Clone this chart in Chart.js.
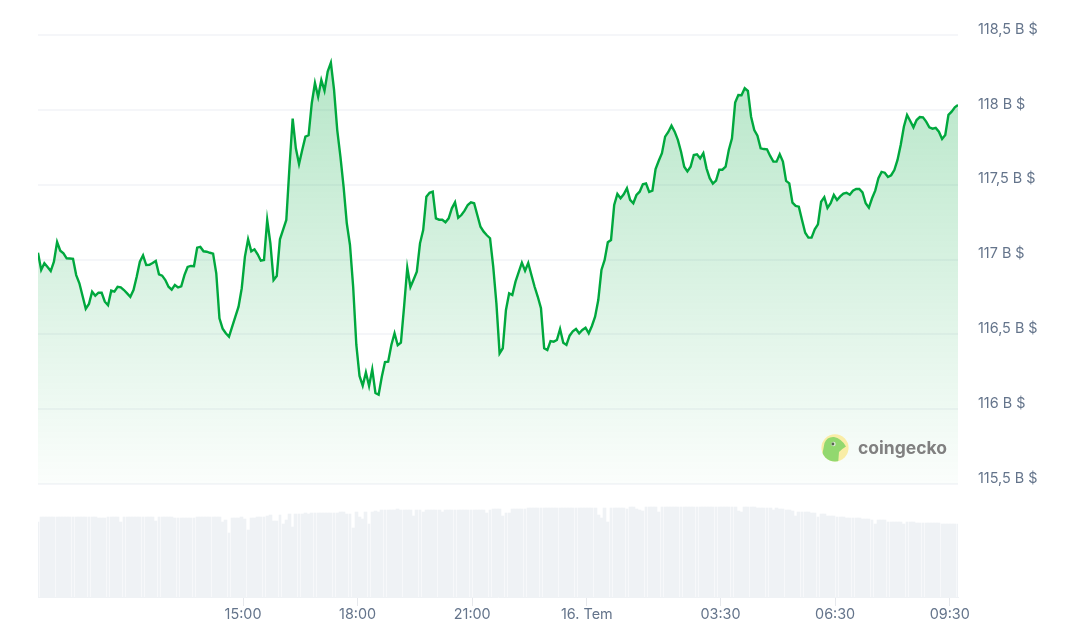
<!DOCTYPE html>
<html><head><meta charset="utf-8">
<style>html,body{margin:0;padding:0;background:#fff}canvas{display:block}</style>
<script src="https://cdn.jsdelivr.net/npm/chart.js@4"></script>
</head><body><canvas id="c" width="1065" height="627"></canvas>
<script>
const sampleMinutes = 5;
const xTickMinutes = [322, 502, 682, 862, 1072, 1252, 1432];
const xTickLabels = ["15:00", "18:00", "21:00", "16. Tem", "03:30", "06:30", "09:30"];
const yTickValues = [115.5, 116, 116.5, 117, 117.5, 118, 118.5];
const yTickLabels = ["115,5 B $", "116 B $", "116,5 B $", "117 B $", "117,5 B $", "118 B $", "118,5 B $"];
const priceValues = [
117.045,116.930,116.975,116.950,116.923,116.985,117.117,117.059,117.041,117.008,
117.007,117.005,116.896,116.841,116.756,116.671,116.703,116.785,116.758,116.778,
116.778,116.718,116.694,116.792,116.785,116.818,116.814,116.796,116.774,116.751,
116.796,116.885,116.985,117.028,116.963,116.965,116.977,116.990,116.901,116.892,
116.863,116.818,116.798,116.830,116.814,116.821,116.896,116.950,116.957,116.955,
117.079,117.084,117.055,117.052,117.045,117.039,116.908,116.607,116.538,116.507,
116.484,116.551,116.618,116.685,116.808,117.019,117.135,117.055,117.068,117.035,
116.992,116.997,117.264,117.108,116.863,116.890,117.135,117.200,117.264,117.620,
117.941,117.743,117.638,117.732,117.821,117.830,118.044,118.179,118.088,118.199,
118.128,118.255,118.315,118.133,117.865,117.687,117.486,117.242,117.097,116.818,
116.429,116.222,116.157,116.246,116.155,116.266,116.108,116.097,116.217,116.315,
116.317,116.429,116.507,116.427,116.444,116.685,116.945,116.816,116.866,116.919,
117.108,117.197,117.420,117.446,117.453,117.275,117.266,117.266,117.249,117.275,
117.342,117.382,117.279,117.297,117.326,117.364,117.382,117.376,117.297,117.219,
117.186,117.162,117.142,116.952,116.707,116.373,116.407,116.663,116.774,116.763,
116.852,116.916,116.979,116.925,116.977,116.896,116.818,116.751,116.674,116.407,
116.395,116.455,116.451,116.462,116.536,116.444,116.429,116.491,116.520,116.536,
116.507,116.529,116.544,116.507,116.556,116.618,116.729,116.930,116.997,117.115,
117.130,117.364,117.438,117.409,117.436,117.476,117.398,117.376,117.431,117.453,
117.503,117.508,117.451,117.460,117.605,117.660,117.710,117.821,117.852,117.894,
117.854,117.799,117.720,117.620,117.589,117.620,117.698,117.703,117.676,117.710,
117.609,117.543,117.507,117.527,117.600,117.600,117.620,117.732,117.810,118.048,
118.099,118.097,118.144,118.126,117.954,117.865,117.827,117.743,117.738,117.736,
117.692,117.654,117.654,117.703,117.654,117.525,117.509,117.380,117.358,117.353,
117.264,117.179,117.146,117.146,117.202,117.235,117.386,117.416,117.344,117.376,
117.431,117.398,117.422,117.440,117.446,117.433,117.460,117.471,117.471,117.449,
117.376,117.346,117.409,117.460,117.543,117.585,117.580,117.551,117.563,117.598,
117.665,117.765,117.887,117.966,117.925,117.883,117.932,117.952,117.950,117.921,
117.883,117.874,117.879,117.854,117.805,117.832,117.966,117.988,118.017,118.032
];
const volumeValues = [
75,80,80,80,80,80,80,80,80,80,
80,80,80,80,80,80,80,80,80,78.7,
78.7,78.7,80.3,80.3,80.3,80.3,74.7,80,80,80,
80,80,80,80,80,80,80,76,80,80,
80,80,80,78.7,78.7,78.7,78.7,78.7,78.7,78.7,
80.3,80.3,80.3,80.3,80.3,80.3,80.3,80.3,75.3,76.7,
64,79,79.3,79.3,80,78,67,78.7,79.3,80,
80,80,81,82,76.3,76.3,82,73,76.7,83,
70.3,83,83,83,84,83,84,84,84,84,
84,84,84,84,84,85,85,83,83,69.3,
85,80,78,85,73,85,86.3,85,86.7,86.7,
86.7,86.7,86.7,87.7,86.7,86.7,86.7,86.7,81.3,86.7,
86.7,85.3,86.7,86.7,86.7,86.7,86.7,85.3,86.7,86.7,
86.7,86.7,86.7,86.7,86.7,86.7,86.7,86.7,86.7,86.7,
86.7,84,86.7,87.7,87.7,87.7,81.3,84,84,87.7,
87.7,87.7,87.7,88.3,89,89,89,89,89,89,
89,89,89,89,89,89,89,89,89,89,
89,89,89,89,89,89,82,79.3,89,75.3,
89,89,89,89,89,88.3,90,90,88,87,
86.3,90.3,90.3,90.3,90,85.3,90.3,90.3,90.3,90.3,
90.3,90.3,90.3,90.3,90.3,90.3,90.3,90.3,90.3,90.3,
90.3,90.3,90.3,90.3,90.3,90.3,90.3,90.3,90.3,89.7,
86.3,85.3,90.3,90.3,90.3,90.3,89.3,89,89,89,
88.7,87.3,88.7,88,87.7,86.7,86.7,86.3,81.3,85.3,
85.3,85.3,85.3,84,83.7,80.3,83,83,81.3,81.3,
80.7,80,80,80,79,79,79,79,79,78,
78,78,76.7,72.7,76.7,76.7,76.7,75.3,75,75,
75,75,73,75,75,75,74,74,74,74,
74,74,74,74,73,73,73,73,73,73
];
const xMax = 1445, yMin = 114.745, yMax = 118.5, volMax = 562;
const TEXT = '#64748b';
const FONT = 'Inter, sans-serif';

// snap the library-computed bars to whole pixels so they stay crisp with hairline gaps
const crispBars = {
  id: 'crispBars',
  afterDatasetsUpdate(chart) {
    chart.getSortedVisibleDatasetMetas().forEach(meta => {
      if (meta.type !== 'bar') return;
      meta.data.forEach(el => {
        const l = Math.round(el.x - el.width / 2), r = Math.round(el.x + el.width / 2);
        el.x = (l + r) / 2; el.width = r - l; el.y = Math.round(el.y);
      });
    });
  }
};

const watermark = {
  id: 'watermark',
  afterDatasetsDraw(chart) {
    const g = chart.ctx;
    g.save();
    g.fillStyle = '#f9eda6';
    g.beginPath(); g.arc(835, 447.8, 13.6, 0, Math.PI * 2); g.fill();
    g.save();
    g.beginPath(); g.arc(835, 447.8, 13.6, 0, Math.PI * 2); g.clip();
    g.fillStyle = '#92d86f';
    g.beginPath();
    g.moveTo(820, 466);
    g.lineTo(824.5, 443);
    g.quadraticCurveTo(827, 436.5, 834, 437);
    g.quadraticCurveTo(841, 438, 846, 446.5);
    g.quadraticCurveTo(841, 449.5, 839, 452);
    g.quadraticCurveTo(838.5, 458, 838, 466);
    g.closePath(); g.fill();
    g.restore();
    g.fillStyle = '#dfe8d8';
    g.beginPath(); g.arc(833.5, 444, 2.2, 0, Math.PI * 2); g.fill();
    g.fillStyle = '#55654d';
    g.beginPath(); g.arc(832.9, 444, 1.4, 0, Math.PI * 2); g.fill();
    g.fillStyle = '#808080';
    g.font = '700 17.5px Inter, sans-serif';
    g.textBaseline = 'middle';
    g.textAlign = 'left';
    g.fillText('coingecko', 858, 448.5);
    g.restore();
  }
};

new Chart(document.getElementById('c'), {
  data: {
    datasets: [
      {
        type: 'line', label: 'Piyasa Değeri', yAxisID: 'y', order: 1,
        data: priceValues.map((v, i) => ({ x: i * sampleMinutes, y: v })),
        borderColor: '#00a83e', borderWidth: 2.4, pointRadius: 0, tension: 0,
        fill: { value: 115.5 },
        backgroundColor(ctx) {
          const { chart } = ctx;
          const s = chart.scales.y;
          const top = s ? s.getPixelForValue(yMax) : NaN;
          const bottom = s ? s.getPixelForValue(115.5) : NaN;
          if (!chart.chartArea || !Number.isFinite(top) || !Number.isFinite(bottom)) return 'rgba(0,168,62,.15)';
          const gr = chart.ctx.createLinearGradient(0, top, 0, bottom);
          gr.addColorStop(0, 'rgba(0,168,62,.30)');
          gr.addColorStop(1, 'rgba(0,168,62,.015)');
          return gr;
        }
      },
      {
        type: 'bar', label: 'Hacim', yAxisID: 'vol', order: 2,
        data: volumeValues.map((v, i) => ({ x: i * sampleMinutes, y: v })),
        backgroundColor: '#eff2f5', borderWidth: 0, barThickness: 2.85
      }
    ]
  },
  plugins: [crispBars, watermark],
  options: {
    responsive: false, animation: false, devicePixelRatio: 1,
    layout: { padding: { left: 38, top: 35, right: 0, bottom: 0 } },
    plugins: { legend: { display: false }, tooltip: { enabled: false } },
    scales: {
      x: {
        type: 'linear', min: 0, max: xMax, offset: false,
        afterBuildTicks(s) { s.ticks = xTickMinutes.map(v => ({ value: v })); },
        afterFit(s) { s.height = 30; },
        border: { display: true, color: '#eff2f5', width: 1 },
        grid: { offset: false, drawOnChartArea: false, drawTicks: true, tickLength: 9, tickColor: '#e6e8ec', tickWidth: 1 },
        ticks: {
          autoSkip: false, maxRotation: 0, padding: 0, color: TEXT,
          font: { family: FONT, size: 14.4 },
          callback: v => xTickLabels[xTickMinutes.indexOf(v)]
        }
      },
      y: {
        position: 'right', min: yMin, max: yMax,
        afterBuildTicks(s) { s.ticks = yTickValues.map(v => ({ value: v })); },
        afterFit(s) { s.width = 107; },
        border: { display: false },
        grid: { color: '#f5f6f9', lineWidth: 2, drawTicks: false },
        ticks: {
          autoSkip: false, padding: 20, crossAlign: 'near', labelOffset: -5.5, color: TEXT,
          font: { family: FONT, size: 14.4 },
          callback: v => yTickLabels[yTickValues.indexOf(v)]
        }
      },
      vol: { display: false, min: 0, max: volMax }
    }
  }
});
</script></body></html>
